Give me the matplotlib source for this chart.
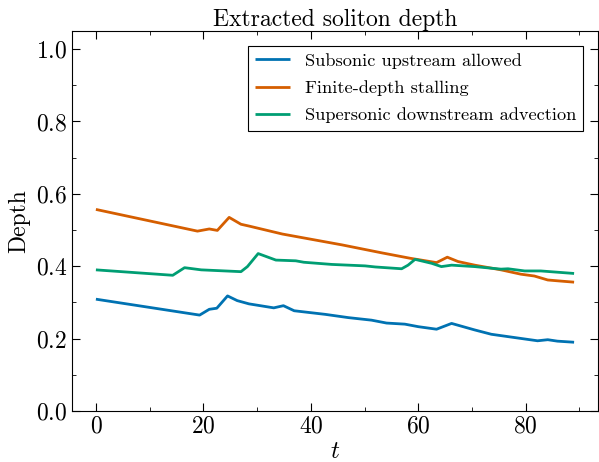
import matplotlib
matplotlib.use("Agg")
import matplotlib.pyplot as plt
from matplotlib.ticker import MultipleLocator

plt.rcParams['font.family'] = 'serif'
plt.rcParams['font.serif'] = ['cmr10', 'DejaVu Serif']
plt.rcParams['mathtext.fontset'] = 'cm'
plt.rcParams['axes.unicode_minus'] = False
plt.rcParams['axes.formatter.use_mathtext'] = True

labels = ["Subsonic upstream allowed", "Finite-depth stalling", "Supersonic downstream advection"]
colors = ["#0072B2", "#D55E00", "#009E73"]

t_blue = [0, 19.3, 21.1, 22.5, 24.5, 26.3, 28.5, 33.1, 34.9, 36.9, 42.7, 47.0, 51.3, 54.1, 57.5,
          60.0, 63.4, 66.2, 70.5, 73.6, 77.9, 82.2, 84.1, 85.9, 89.0]
v_blue = [0.309, 0.265, 0.281, 0.284, 0.318, 0.305, 0.296, 0.285, 0.291, 0.277, 0.267, 0.258, 0.251,
          0.243, 0.240, 0.233, 0.226, 0.242, 0.224, 0.212, 0.203, 0.194, 0.197, 0.193, 0.190]

t_orange = [0, 18.9, 21.1, 22.6, 24.8, 27.0, 28.5, 34.7, 45.8, 53.2, 58.5, 63.4, 65.4, 67.4,
            70.5, 75.4, 79.1, 81.6, 84.1, 86.5, 89.0]
v_orange = [0.557, 0.497, 0.503, 0.499, 0.535, 0.516, 0.511, 0.489, 0.459, 0.437, 0.422, 0.410,
            0.425, 0.413, 0.403, 0.390, 0.378, 0.373, 0.362, 0.359, 0.356]

t_green = [0, 14.3, 16.5, 19.6, 27.0, 28.2, 30.2, 33.5, 37.2, 38.7, 43.9, 50.1, 52.0, 56.9, 58.1,
           59.4, 62.5, 64.3, 66.2, 70.5, 75.4, 76.7, 79.8, 82.8, 89.0]
v_green = [0.390, 0.375, 0.396, 0.390, 0.385, 0.399, 0.435, 0.417, 0.415, 0.411, 0.405, 0.401, 0.398,
           0.393, 0.403, 0.419, 0.408, 0.399, 0.403, 0.399, 0.392, 0.393, 0.387, 0.387, 0.380]

fig = plt.figure(figsize=(5.99, 4.62), dpi=100)
ax = fig.add_axes([72/599, 51/462, 526/599, 380/462])

for t, v, lab, c in [(t_blue, v_blue, labels[0], colors[0]),
                     (t_orange, v_orange, labels[1], colors[1]),
                     (t_green, v_green, labels[2], colors[2])]:
    ax.plot(t, v, color=c, lw=2.0, label=lab, solid_joinstyle='round', solid_capstyle='butt')

ax.set_xlim(-4.45, 93.45)
ax.set_ylim(0, 1.05)
ax.xaxis.set_major_locator(MultipleLocator(20))
ax.xaxis.set_minor_locator(MultipleLocator(10))
ax.yaxis.set_major_locator(MultipleLocator(0.2))
ax.yaxis.set_minor_locator(MultipleLocator(0.1))
ax.tick_params(which='both', direction='in', top=True, right=True, labelsize=17)
ax.tick_params(which='major', length=6)
ax.tick_params(which='minor', length=3)

ax.set_xlabel("$t$", fontsize=18, labelpad=2)
ax.set_ylabel("Depth", fontsize=17, labelpad=4)
ax.set_title("Extracted soliton depth", fontsize=17, pad=3)

leg = ax.legend(loc='upper right', fontsize=13.2, fancybox=False, edgecolor='black',
                framealpha=1, handlelength=1.9, borderaxespad=0.8, labelspacing=0.62)
leg.get_frame().set_linewidth(0.8)

fig.savefig("out.png", dpi=100)
